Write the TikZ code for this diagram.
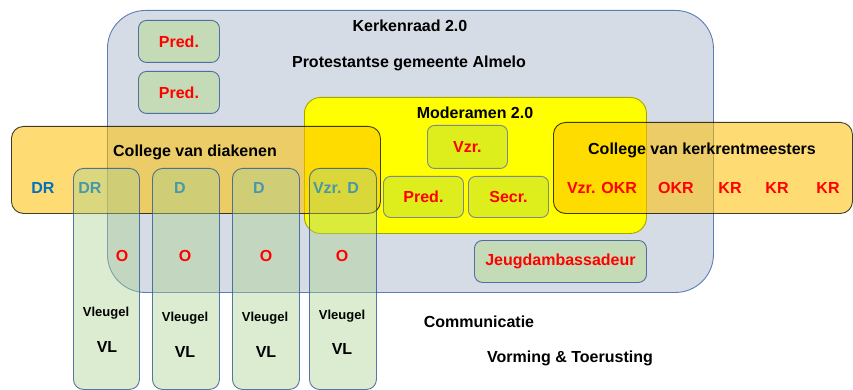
\documentclass[tikz,border=0pt]{standalone}
\usepackage{fontspec}
\setmainfont{Liberation Sans}
\definecolor{kgrey}{HTML}{D6DCE5}
\definecolor{kborder}{HTML}{5B7DB8}
\definecolor{pgreen}{HTML}{C5DAB6}
\definecolor{pborder}{HTML}{4F6FA0}
\definecolor{modyellow}{HTML}{FFFF00}
\definecolor{modborder}{HTML}{A6A600}
\definecolor{innerfill}{HTML}{DDEE1C}
\definecolor{innerborder}{HTML}{7A8A90}
\definecolor{corange}{HTML}{FFC000}
\definecolor{vgreen}{HTML}{A9D18E}
\definecolor{vborder}{HTML}{2F5597}
\definecolor{dblue}{HTML}{0070C0}
\definecolor{tred}{HTML}{FF0000}
\begin{document}
\begin{tikzpicture}[x=1pt,y=-1pt,
  big/.style={font=\bfseries\fontsize{16}{19}\selectfont},
  small/.style={font=\bfseries\fontsize{13}{15}\selectfont},
  redtxt/.style={big,text=tred},
  bluetxt/.style={big,text=dblue},
  area/.style={anchor=north west,inner sep=0pt,line width=0.9pt},
  kerk/.style={area,fill=kgrey,draw=kborder,rounded corners=38pt},
  predbox/.style={area,fill=pgreen,draw=pborder,rounded corners=8pt,redtxt},
  mod/.style={area,fill=modyellow,draw=modborder,rounded corners=16pt},
  innerbox/.style={area,fill=innerfill,draw=innerborder,rounded corners=7pt,redtxt},
  college/.style={area,fill=corange,fill opacity=0.55,draw=black,draw opacity=0.75,rounded corners=12pt},
  wing/.style={area,fill=vgreen,fill opacity=0.42,draw=vborder,draw opacity=0.8,rounded corners=10pt},
]
\useasboundingbox (0,0) rectangle (853,390);
% Kerkenraad
\node[kerk,minimum width=606pt,minimum height=282pt] (kr) at (107,10) {};
\node[big] (krt) at (410,26) {Kerkenraad 2.0};
\node[big] (pga) at (409,63) {Protestantse gemeente Almelo};
\node[predbox,minimum width=81pt,minimum height=42pt] (pred1) at (138,20) {Pred.};
\node[predbox,minimum width=81pt,minimum height=42pt] (pred2) at (138,71) {Pred.};
% Moderamen
\node[mod,minimum width=342pt,minimum height=136pt] (mod) at (304,97) {};
\node[big] (modt) at (475,113) {Moderamen 2.0};
\node[innerbox,minimum width=80pt,minimum height=43pt] (vzr) at (427,125) {Vzr.};
\node[innerbox,minimum width=80pt,minimum height=41pt] (mpred) at (383,176) {Pred.};
\node[innerbox,minimum width=80pt,minimum height=41pt] (secr) at (468,176) {Secr.};
\node[predbox,minimum width=172pt,minimum height=42pt] (jeugd) at (474,240) {Jeugdambassadeur};
% Colleges
\node[college,minimum width=369pt,minimum height=87pt] (cd) at (11,126) {};
\node[college,minimum width=299pt,minimum height=91pt] (ck) at (553,122) {};
\node[big] (cdt) at (195,152) {College van diakenen};
\node[big] (ckt) at (702,150) {College van kerkrentmeesters};
\node[bluetxt] (dr1) at (43,188) {DR};
\node[bluetxt] (dr2) at (90,188) {DR};
\node[bluetxt] (d1) at (180,188) {D};
\node[bluetxt] (d2) at (259,188) {D};
\node[bluetxt] (vzrd) at (336,188) {Vzr. D};
\node[redtxt] (vokr) at (602,188) {Vzr. OKR};
\node[redtxt] (okr) at (676,188) {OKR};
\node[redtxt] (kr1) at (730,188) {KR};
\node[redtxt] (kr2) at (777,188) {KR};
\node[redtxt] (kr3) at (828,188) {KR};
% Wings
\node[wing,minimum width=66pt,minimum height=221pt] (w1) at (73,168) {};
\node[wing,minimum width=67pt,minimum height=221pt] (w2) at (152,168) {};
\node[wing,minimum width=67pt,minimum height=221pt] (w3) at (232,168) {};
\node[wing,minimum width=67pt,minimum height=221pt] (w4) at (309,168) {};
\node[redtxt] (o1) at (122,256) {O};
\node[redtxt] (o2) at (185,256) {O};
\node[redtxt] (o3) at (266,256) {O};
\node[redtxt] (o4) at (342,256) {O};
\node[small] (v1) at (106,313) {Vleugel};
\node[small] (v2) at (185,318) {Vleugel};
\node[small] (v3) at (265,318) {Vleugel};
\node[small] (v4) at (342,316) {Vleugel};
\node[big] (vl1) at (107,347) {VL};
\node[big] (vl2) at (185,352) {VL};
\node[big] (vl3) at (266,352) {VL};
\node[big] (vl4) at (342,349) {VL};
% Other
\node[big] (comm) at (479,322) {Communicatie};
\node[big] (vt) at (570,358) {Vorming \& Toerusting};
\end{tikzpicture}
\end{document}
